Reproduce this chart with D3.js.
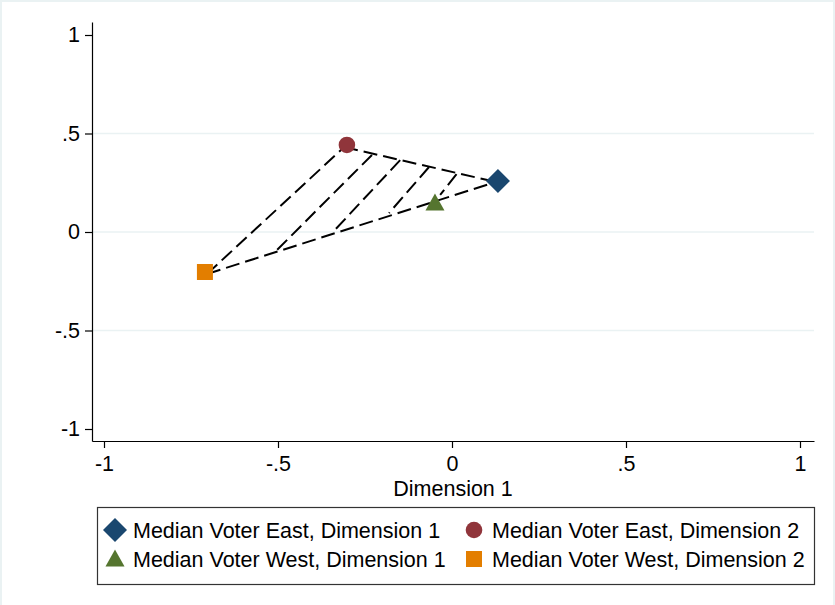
<!DOCTYPE html>
<html>
<head>
<meta charset="utf-8">
<script src="https://cdn.jsdelivr.net/npm/d3@7"></script>
<style>
  html, body { margin: 0; padding: 0; background: #fff; }
  svg { display: block; }
  text { font-family: "Liberation Sans", Arial, sans-serif; fill: #000; }
</style>
</head>
<body>
<svg id="chart" width="835" height="605"></svg>
<script>
// Median voter positions (Dimension 1, Dimension 2)
const seriesNames = [
  "Median Voter East, Dimension 1",
  "Median Voter East, Dimension 2",
  "Median Voter West, Dimension 1",
  "Median Voter West, Dimension 2"
];
const seriesX = [0.132, -0.302, -0.049, -0.710];
const seriesY = [0.259, 0.442, 0.147, -0.203];
const seriesSymbols = ["diamond", "circle", "triangle", "square"];
const seriesColors = ["#1a476f", "#90353b", "#55752f", "#e37e00"];

// Dashed connector segments: outline of the triangle and its hatch lines
const segX1 = [-0.704, -0.310, -0.704, -0.230, -0.149, -0.066, 0.013];
const segY1 = [-0.213, 0.431, -0.213, 0.391, 0.365, 0.330, 0.294];
const segX2 = [-0.310, 0.126, 0.126, -0.509, -0.342, -0.181, -0.034];
const segY2 = [0.431, 0.254, 0.254, -0.102, 0.000, 0.096, 0.188];

const xTicks = [-1, -0.5, 0, 0.5, 1];
const yTicks = [-1, -0.5, 0, 0.5, 1];
const yGrid = [-0.5, 0, 0.5];
const xTitle = "Dimension 1";

const fmt = v => v === 0 ? "0" : String(v).replace(/^(-?)0\./, "$1.");
const FONT = "21.5px";

const svg = d3.select("#chart");
const W = 835, H = 605;

// Outer graph region
svg.append("rect").attr("width", W).attr("height", H).attr("fill", "#eaf2f3");
svg.append("rect").attr("x", 2).attr("y", 2).attr("width", W - 4).attr("height", H - 2).attr("fill", "#fff");

// Scales
const x = d3.scaleLinear().domain([-1, 1]).range([104, 800]);
const y = d3.scaleLinear().domain([-1, 1]).range([429, 35]);
const plotLeft = 92, plotRight = 814, plotTop = 22, plotBottom = 441;
const xAxisScale = x.copy().domain([x.invert(plotLeft), x.invert(plotRight)]).range([plotLeft, plotRight]);
const yAxisScale = y.copy().domain([y.invert(plotBottom), y.invert(plotTop)]).range([plotBottom, plotTop]);

// Grid lines
svg.append("g").selectAll("line").data(yGrid).join("line")
  .attr("x1", plotLeft).attr("x2", plotRight)
  .attr("y1", d => y(d)).attr("y2", d => y(d))
  .attr("stroke", "#eaf2f3").attr("stroke-width", 1.5);

// Axes
const xAxis = svg.append("g").attr("transform", `translate(0,${plotBottom})`)
  .call(d3.axisBottom(xAxisScale).tickValues(xTicks).tickFormat(fmt).tickSize(7).tickSizeOuter(0).tickPadding(8));
const yAxis = svg.append("g").attr("transform", `translate(${plotLeft},0)`)
  .call(d3.axisLeft(yAxisScale).tickValues(yTicks).tickFormat(fmt).tickSize(7).tickSizeOuter(0).tickPadding(5));
[xAxis, yAxis].forEach(g => {
  g.selectAll("path.domain").attr("stroke", "#000").attr("stroke-width", 1.2);
  g.selectAll(".tick line").attr("stroke", "#000").attr("stroke-width", 1.2);
  g.selectAll(".tick text").style("font-size", FONT).style("font-family", '"Liberation Sans", Arial, sans-serif').attr("fill", "#000");
});

svg.append("text")
  .attr("x", (x(-1) + x(1)) / 2 + 1).attr("y", 496)
  .attr("text-anchor", "middle").style("font-size", FONT)
  .text(xTitle);

// Dashed segments
svg.append("g").selectAll("line").data(d3.range(segX1.length)).join("line")
  .attr("x1", i => x(segX1[i])).attr("y1", i => y(segY1[i]))
  .attr("x2", i => x(segX2[i])).attr("y2", i => y(segY2[i]))
  .attr("stroke", "#000").attr("stroke-width", 2)
  .attr("stroke-dasharray", "14,6");

// Markers
function marker(sel, s, c) {
  if (s === "diamond") {
    sel.append("path").attr("d", "M0,-12L12,0L0,12L-12,0Z").attr("fill", c);
  } else if (s === "circle") {
    sel.append("circle").attr("r", 8.3).attr("fill", c);
  } else if (s === "triangle") {
    sel.append("path").attr("d", "M0,-9.5L9.5,7.5L-9.5,7.5Z").attr("fill", c);
  } else {
    sel.append("rect").attr("x", -8).attr("y", -8).attr("width", 16).attr("height", 16).attr("fill", c);
  }
}
seriesNames.forEach((n, i) => {
  const g = svg.append("g").attr("transform", `translate(${x(seriesX[i])},${y(seriesY[i])})`);
  marker(g, seriesSymbols[i], seriesColors[i]);
});

// Legend
const lg = svg.append("g");
lg.append("rect").attr("x", 97.5).attr("y", 507.5).attr("width", 717).attr("height", 77)
  .attr("fill", "#fff").attr("stroke", "#333").attr("stroke-width", 1.2);
const legendPos = [[115, 530], [474, 530], [115, 559], [474, 559]];
seriesNames.forEach((n, i) => {
  const [lx, ly] = legendPos[i];
  const g = lg.append("g").attr("transform", `translate(${lx},${ly})`);
  marker(g, seriesSymbols[i], seriesColors[i]);
  lg.append("text").attr("x", lx + 18).attr("y", ly + 8).style("font-size", FONT).text(n);
});
</script>
</body>
</html>
